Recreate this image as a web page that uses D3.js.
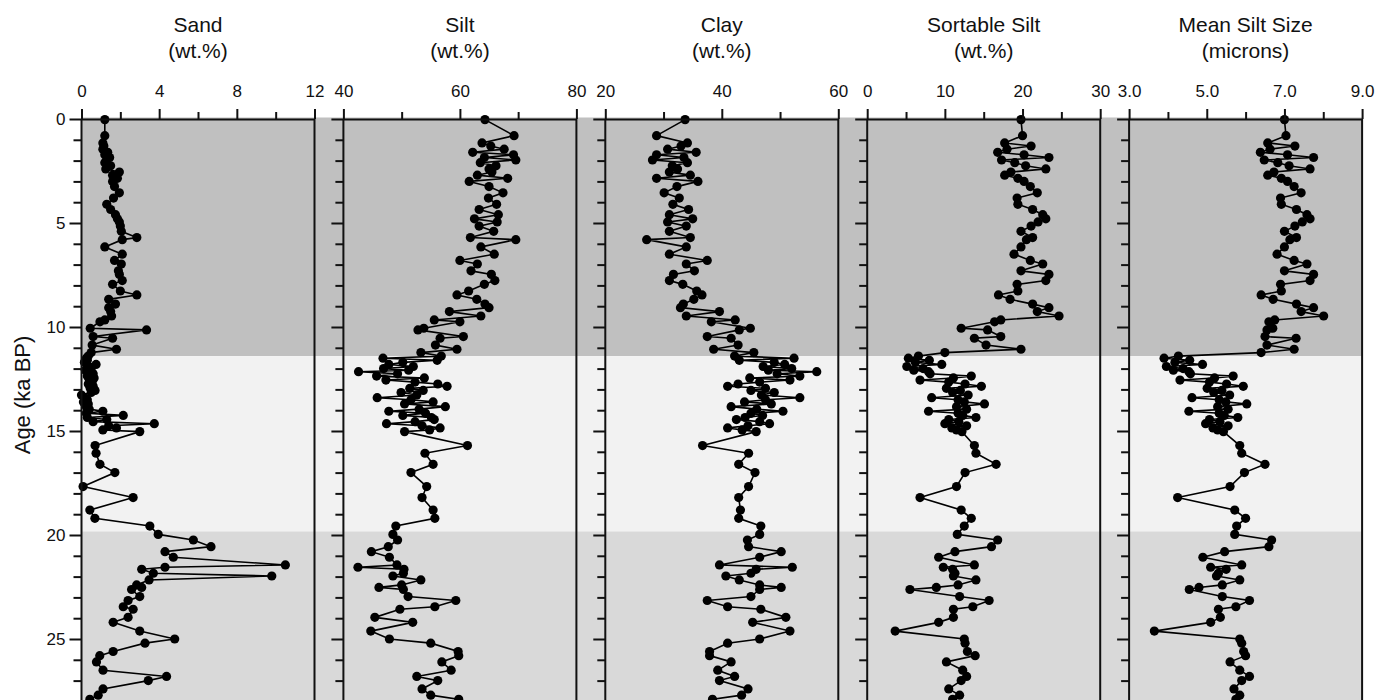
<!DOCTYPE html>
<html lang="en">
<head>
<meta charset="UTF-8">
<title>Grain size records</title>
<script src="https://d3js.org/d3.v7.min.js"></script>
<style>
  body { margin: 0; background: #fff; }
  svg { display: block; font-family: "Liberation Sans", Arial, Helvetica, sans-serif; }
  .axis text { font-size: 17px; fill: #111; }
  .axis path, .axis line { stroke: #111; stroke-width: 2; }
</style>
</head>
<body>
<div id="chart"></div>
<script>
// sample ages (ka BP), shared by the five records
const ages = [
  0.03, 0.8, 1.15, 1.3, 1.45, 1.6, 1.72, 1.85, 1.97, 2.1,
  2.25, 2.4, 2.55, 2.7, 2.85, 3.0, 3.25, 3.55, 3.8, 4.1,
  4.35, 4.6, 4.8, 4.95, 5.15, 5.4, 5.7, 5.8, 6.15, 6.5,
  6.8, 6.97, 7.3, 7.47, 7.77, 7.95, 8.27, 8.46, 8.67, 8.9,
  9.07, 9.26, 9.47, 9.66, 9.75, 10.06, 10.14, 10.46, 10.54, 10.87,
  11.07, 11.23,
  11.4, 11.5, 11.6, 11.7, 11.8, 11.9, 12.0, 12.08, 12.15, 12.25,
  12.36, 12.45, 12.55, 12.65, 12.74, 12.85, 12.95, 13.05, 13.15, 13.27,
  13.4, 13.5, 13.6, 13.7, 13.83, 13.95, 14.05, 14.15, 14.25, 14.35,
  14.45, 14.55, 14.65, 14.75, 14.85, 14.95, 15.03,
  15.7, 16.07, 16.6, 17.0, 17.67, 18.2, 18.8, 19.2, 19.57, 19.97,
  20.24, 20.56, 20.8, 21.07, 21.44, 21.55, 21.65, 21.84, 21.97, 22.16,
  22.4, 22.52, 22.62, 22.96, 23.15, 23.45, 23.57, 23.96, 24.2, 24.62,
  25.0, 25.2, 25.6, 25.8, 26.1, 26.5, 26.8, 27.0, 27.4, 27.7,
  27.9, 28.3
];

const sand = [
  1.2, 1.2, 1.1, 1.15, 1.1, 1.35, 1.2, 1.45, 1.3, 1.2,
  1.5, 1.25, 1.95, 1.6, 1.85, 1.6, 1.7, 1.95, 1.65, 1.3,
  1.5, 1.75, 1.85, 1.95, 2.0, 2.05, 2.85, 2.1, 1.2, 2.1,
  1.7, 2.05, 1.9, 1.95, 2.1, 1.6, 2.0, 2.85, 1.4, 1.75,
  1.4, 1.5, 1.55, 1.2, 0.95, 0.45, 3.35, 0.6, 1.6, 0.55,
  1.8, 0.5,
  0.35, 0.25, 0.3, 0.15, 0.75, 0.3, 0.5, 0.2, 0.45, 0.6,
  0.3, 0.65, 0.4, 0.55, 0.35, 0.6, 0.45, 0.7, 0.5, 0.0,
  0.15, 0.3, 0.1, 0.35, 0.25, 0.4, 1.1, 0.25, 2.15, 0.3,
  1.3, 0.6, 3.75, 1.4, 1.8, 1.1, 3.0,
  0.7, 0.75, 0.95, 1.72, 0.08, 2.66, 0.43, 0.69, 3.52, 3.95,
  5.76, 6.67, 4.3, 4.73, 10.5, 4.3, 3.1, 3.7, 9.8, 3.48,
  2.84, 3.1, 2.58, 3.0, 2.4, 2.15, 2.66, 2.4, 1.63, 3.0,
  4.8, 3.27, 1.63, 0.94, 0.77, 1.11, 4.38, 3.44, 1.11, 0.86,
  0.43, 1.0
];

const silt = [
  64.3, 69.3, 63.8, 65.3, 67.6, 62.2, 69.2, 64.2, 69.6, 63.5,
  66.2, 65.0, 65.5, 63.0, 68.2, 61.6, 65.0, 67.4, 64.9, 66.3,
  63.3, 66.6, 62.5, 66.4, 63.3, 65.8, 61.8, 69.6, 63.6, 65.9,
  60.0, 63.0, 61.9, 65.4, 66.0, 64.2, 61.5, 59.5, 62.9, 64.3,
  65.0, 58.2, 63.6, 55.6, 60.0, 53.8, 52.8, 60.6, 56.6, 55.8,
  59.5, 53.3,
  56.8, 46.8, 56.1, 50.2, 47.8, 52.0, 46.9, 51.2, 42.6, 49.3,
  45.7, 53.9, 47.3, 52.3, 56.2, 57.8, 51.4, 53.7, 49.9, 52.6,
  45.8, 51.6, 55.4, 50.5, 57.5, 53.0, 47.8, 54.1, 50.2, 55.1,
  55.6, 52.3, 47.4, 53.5, 56.6, 54.8, 50.5,
  61.3, 54.0, 55.4, 51.6, 54.3, 53.5, 55.4, 55.7, 49.0, 48.5,
  49.3, 47.7, 44.8, 47.9, 49.2, 42.5, 50.4, 50.3, 48.5, 53.3,
  50.0, 46.1, 50.3, 51.1, 59.3, 55.7, 49.7, 45.4, 51.9, 44.7,
  47.9, 55.0, 59.7, 59.8, 56.9, 58.5, 52.6, 56.2, 53.5, 55.0,
  59.8, 58.5
];

const clay = [
  33.7, 28.8, 34.1, 33.0, 30.7, 35.6, 28.8, 33.5, 28.1, 34.1,
  31.5, 32.4, 31.0, 34.6, 28.8, 35.9, 32.3, 30.1, 32.7, 31.6,
  34.3, 31.0, 35.0, 30.7, 33.9, 31.0, 34.6, 27.1, 33.9, 31.0,
  37.5, 33.9, 35.3, 31.7, 31.0, 33.3, 35.7, 36.6, 35.2, 33.4,
  32.9, 39.6, 33.9, 42.3, 38.2, 44.9, 43.0, 37.5, 41.6, 42.8,
  38.6, 45.5,
  42.2, 52.4, 43.0, 49.0, 50.8, 47.1, 52.0, 48.0, 56.3, 49.5,
  53.4, 44.8, 51.7, 46.5, 42.8, 41.0, 47.5, 45.0, 49.0, 46.8,
  53.4, 47.5, 43.9, 48.5, 41.6, 46.0, 50.5, 45.0, 47.0, 44.0,
  42.5, 46.5, 48.2, 44.5, 41.0, 43.5, 45.9,
  36.7, 44.6, 42.9, 45.7, 44.6, 42.9, 43.2, 42.9, 46.7, 46.5,
  44.4, 44.6, 50.2, 46.5, 39.6, 52.1, 45.9, 45.0, 40.7, 43.0,
  46.5, 50.2, 46.5, 45.0, 37.5, 41.0, 46.7, 51.0, 45.3, 51.7,
  46.5, 41.0, 37.9, 37.9, 41.6, 39.3, 42.2, 39.6, 44.5, 43.4,
  38.4, 40.0
];

const sortableSilt = [
  19.8, 20.0, 17.7, 21.1, 18.0, 16.8, 20.2, 23.4, 17.3, 19.0,
  20.4, 23.0, 18.5, 17.7, 19.4, 20.2, 21.0, 21.9, 19.3, 19.4,
  21.3, 22.6, 23.0, 22.0, 21.1, 19.8, 21.3, 20.5, 19.8, 18.9,
  21.0, 22.6, 19.8, 23.4, 23.0, 19.3, 19.4, 16.9, 18.4, 21.3,
  23.4, 21.9, 24.7, 17.2, 16.4, 12.1, 15.5, 17.2, 13.8, 15.3,
  19.8, 10.0,
  6.6, 5.3, 8.0, 6.2, 9.6, 5.1, 7.2, 6.0, 7.9, 8.1,
  13.4, 11.1, 6.8, 10.5, 12.6, 14.7, 10.2, 12.0, 11.0, 13.0,
  8.3, 11.7, 12.5, 15.1, 11.5, 12.8, 7.9, 11.7, 12.3, 14.0,
  10.5, 11.8, 10.0, 12.8, 10.9, 11.5, 12.2,
  13.8, 14.0, 16.6, 12.6, 11.5, 6.8, 12.1, 13.4, 12.5, 11.6,
  16.8, 16.0, 11.3, 9.2, 13.8, 9.8, 11.0, 11.3, 11.1, 14.0,
  11.7, 8.9, 5.5, 11.9, 15.7, 13.6, 11.1, 11.1, 9.2, 3.6,
  12.5, 12.6, 12.9, 13.9, 10.2, 12.3, 12.8, 12.1, 10.5, 11.9,
  11.0, 12.0
];

const meanSiltSize = [
  7.0, 7.04, 6.57, 7.27, 6.63, 6.38, 7.08, 7.75, 6.48, 6.83,
  7.12, 7.66, 6.73, 6.57, 6.92, 7.08, 7.25, 7.43, 6.9, 6.92,
  7.31, 7.58, 7.66, 7.46, 7.27, 7.0, 7.31, 7.14, 7.0, 6.81,
  7.25, 7.58, 7.0, 7.75, 7.66, 6.9, 6.92, 6.4, 6.71, 7.31,
  7.75, 7.43, 8.01, 6.75, 6.6, 6.7, 6.55, 6.5, 7.3, 6.55,
  7.25, 6.4,
  4.27, 3.9, 4.56, 4.18, 4.89, 3.96, 4.39, 4.14, 4.54, 4.58,
  5.68, 5.2, 4.31, 5.07, 5.51, 5.94, 5.01, 5.39, 5.18, 5.59,
  4.62, 5.32, 5.49, 6.03, 5.28, 5.55, 4.54, 5.32, 5.45, 5.8,
  5.07, 5.34, 4.97, 5.55, 5.16, 5.28, 5.43,
  5.85, 5.9, 6.5, 5.97, 5.6, 4.25, 5.72, 6.0, 5.77, 5.72,
  6.67, 6.6, 5.46, 4.9, 5.9, 5.1, 5.5, 5.3, 5.25, 5.85,
  5.4, 4.8, 4.55, 5.4, 6.1, 5.75, 5.3, 5.35, 5.1, 3.65,
  5.85, 5.9, 5.95, 6.0, 5.6, 5.85, 6.1, 5.9, 5.7, 5.85,
  5.75, 5.9
];

// x-axis tick labels of each panel
const sandTicks = [0, 4, 8, 12];
const siltTicks = [40, 60, 80];
const clayTicks = [20, 40, 60];
const ssTicks = [0, 10, 20, 30];
const msTicks = [3, 5, 7, 9];

// zone boundaries (ka BP)
const zoneBreaks = [0, 11.4, 19.83, 29];
const zoneColors = ['#c0c0c0', '#f2f2f2', '#d9d9d9'];

const panels = [
  { title: 'Sand', unit: '(wt.%)', ticks: sandTicks, values: sand, fmt: d3.format('d') },
  { title: 'Silt', unit: '(wt.%)', ticks: siltTicks, values: silt, fmt: d3.format('d') },
  { title: 'Clay', unit: '(wt.%)', ticks: clayTicks, values: clay, fmt: d3.format('d') },
  { title: 'Sortable Silt', unit: '(wt.%)', ticks: ssTicks, values: sortableSilt, fmt: d3.format('d') },
  { title: 'Mean Silt Size', unit: '(microns)', ticks: msTicks, values: meanSiltSize, fmt: d3.format('.1f') }
];

// layout
const width = 1388, height = 700;
const axisTop = 119, pxPerKa = 20.8;
const firstLeft = 81.5, panelStep = 261.9, panelW = 233;
const lastRight = firstLeft + panelStep * (panels.length - 1) + panelW;

const svg = d3.select('#chart').append('svg')
  .attr('width', width)
  .attr('height', height);

const y = d3.scaleLinear()
  .domain([0, 28])
  .range([axisTop, axisTop + 28 * pxPerKa]);

// background zones
svg.append('g').selectAll('rect')
  .data(d3.pairs(zoneBreaks))
  .join('rect')
  .attr('x', firstLeft)
  .attr('width', lastRight - firstLeft)
  .attr('y', (d, i) => y(d[0]) - (i === 0 ? 1.5 : 0))
  .attr('height', (d, i) => y(d[1]) - y(d[0]) + (i === 0 ? 1.5 : 0))
  .attr('fill', (d, i) => zoneColors[i]);

const minorAges = d3.range(0, 29).filter(a => a % 5 !== 0);
const majorAges = d3.range(0, 29, 5);

panels.forEach((p, i) => {
  const left = firstLeft + i * panelStep;
  const g = svg.append('g').attr('transform', `translate(${left},0)`);

  const x = d3.scaleLinear()
    .domain(d3.extent(p.ticks))
    .range([0, panelW]);

  const pts = ages.map((a, k) => ({ age: a, v: p.values[k] }));

  const line = d3.line()
    .x(d => x(d.v))
    .y(d => y(d.age));

  g.append('path')
    .datum(pts)
    .attr('fill', 'none')
    .attr('stroke', '#000')
    .attr('stroke-width', 1.6)
    .attr('stroke-linejoin', 'miter')
    .attr('d', line);

  g.selectAll('circle')
    .data(pts)
    .join('circle')
    .attr('cx', d => x(d.v))
    .attr('cy', d => y(d.age))
    .attr('r', 4.6)
    .attr('fill', '#000');

  // top axis, labelled and half-step ticks
  const minorX = d3.pairs(p.ticks).map(([a, b]) => (a + b) / 2);
  g.append('g')
    .attr('class', 'axis')
    .attr('transform', `translate(0,${axisTop})`)
    .call(d3.axisTop(x).tickValues(p.ticks).tickSize(10).tickSizeOuter(0)
      .tickPadding(12).tickFormat(p.fmt));
  g.append('g')
    .attr('class', 'axis')
    .attr('transform', `translate(0,${axisTop})`)
    .call(d3.axisTop(x).tickValues(minorX).tickSize(7).tickFormat(''))
    .call(s => s.select('.domain').remove());

  // left age axis with outward ticks, right frame line
  g.append('g')
    .attr('class', 'axis')
    .call(d3.axisLeft(y).tickValues(minorAges).tickSize(8).tickFormat(''))
    .call(s => s.select('.domain').remove());
  g.append('g')
    .attr('class', 'axis')
    .call(d3.axisLeft(y).tickValues(majorAges).tickSize(12).tickPadding(4)
      .tickFormat(i === 0 ? d3.format('d') : ''))
    .call(s => s.select('.domain').remove());

  g.selectAll('.frame')
    .data([0, panelW])
    .join('line')
    .attr('class', 'frame')
    .attr('x1', d => d).attr('x2', d => d)
    .attr('y1', axisTop).attr('y2', height)
    .attr('stroke', '#111')
    .attr('stroke-width', 2);

  // panel title
  const t = g.append('text')
    .attr('x', panelW / 2)
    .attr('text-anchor', 'middle')
    .style('font-size', '21px')
    .attr('fill', '#111');
  t.append('tspan').attr('x', panelW / 2).attr('y', 32).text(p.title);
  t.append('tspan').attr('x', panelW / 2).attr('y', 58).text(p.unit);
});

// shared y-axis title
svg.append('text')
  .attr('transform', 'translate(22,395) rotate(-90)')
  .attr('text-anchor', 'middle')
  .attr('dy', '0.35em')
  .style('font-size', '22px')
  .attr('fill', '#111')
  .text('Age (ka BP)');
</script>
</body>
</html>
